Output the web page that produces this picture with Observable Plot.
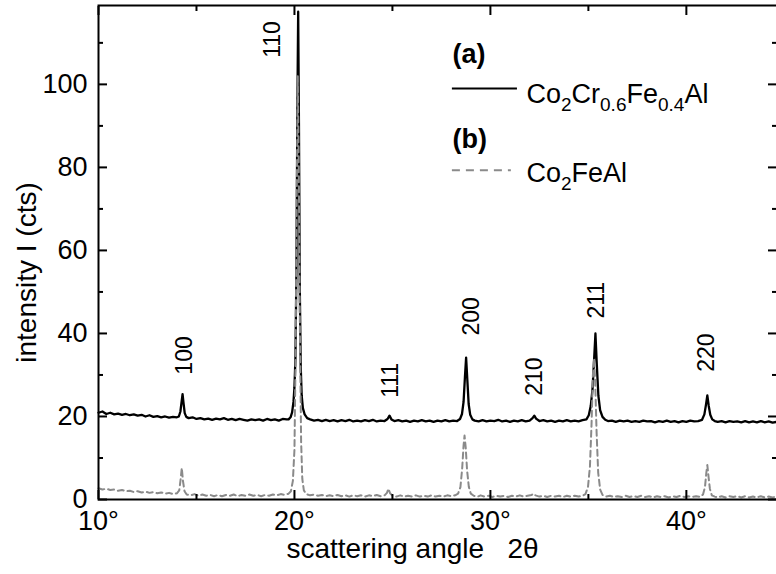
<!DOCTYPE html>
<html><head><meta charset="utf-8">
<script src="https://cdn.jsdelivr.net/npm/d3@7"></script>
<script src="https://cdn.jsdelivr.net/npm/@observablehq/plot@0.6"></script>
<style>html,body{margin:0;padding:0;background:#fff;overflow:hidden}</style>
</head><body><div id="chart"></div>
<script>
// (a) Co2Cr0.6Fe0.4Al : [2θ (deg), intensity (cts)]
const seriesA = [
[10.0,20.9],[10.2,21.2],[10.4,20.6],[10.6,20.9],[10.8,20.5],[11.0,20.7],[11.2,20.4],[11.4,20.6],[11.6,20.3],[11.8,20.5],
[12.0,20.2],[12.2,20.4],[12.4,20.0],[12.6,20.3],[12.8,19.9],[13.0,20.1],[13.2,19.8],[13.4,20.0],[13.6,19.7],[13.8,19.9],
[14.0,19.8],[14.1,20.0],[14.18,21.2],[14.24,23.5],[14.29,25.4],[14.34,23.2],[14.40,20.8],[14.48,19.9],[14.6,19.6],[14.8,19.8],
[15.0,19.4],[15.2,19.6],[15.4,19.3],[15.6,19.5],[15.8,19.2],[16.0,19.5],[16.2,19.3],[16.4,19.6],[16.6,19.2],[16.8,19.4],
[17.0,19.1],[17.2,19.4],[17.4,19.2],[17.6,19.0],[17.8,19.3],[18.0,19.1],[18.2,19.3],[18.4,19.0],[18.6,19.4],[18.8,19.1],
[19.0,19.3],[19.2,19.0],[19.4,19.4],[19.6,19.3],[19.70,19.3],[19.80,19.8],[19.88,21.0],[19.95,23.5],[20.00,27],[20.05,34],
[20.10,55],[20.15,95],[20.19,117.5],[20.23,90],[20.27,52],[20.32,32],[20.37,25],[20.43,22],[20.52,20.5],[20.65,19.6],
[20.8,19.3],[21.0,19.0],[21.2,19.2],[21.4,18.9],[21.6,19.2],[21.8,18.9],[22.0,19.1],[22.2,18.8],[22.4,19.1],[22.6,18.9],
[22.8,19.2],[23.0,18.8],[23.2,19.0],[23.4,18.8],[23.6,19.1],[23.8,18.9],[24.0,19.2],[24.2,18.8],[24.4,19.0],[24.6,18.9],
[24.75,19.4],[24.85,20.2],[24.95,19.3],[25.1,18.9],[25.3,19.1],[25.5,18.8],[25.7,19.0],[25.9,18.7],[26.1,19.0],[26.3,18.8],
[26.5,19.1],[26.7,18.8],[26.9,19.0],[27.1,18.7],[27.3,19.0],[27.5,18.8],[27.7,19.1],[27.9,18.8],[28.1,19.0],[28.3,18.9],
[28.45,19.4],[28.55,20.6],[28.63,23.5],[28.70,29.5],[28.76,34.2],[28.82,29.0],[28.89,23.0],[28.97,20.4],[29.08,19.3],[29.2,19.0],
[29.4,18.8],[29.6,19.1],[29.8,18.8],[30.0,19.0],[30.2,18.9],[30.4,19.2],[30.6,18.8],[30.8,19.0],[31.0,18.7],[31.2,19.0],
[31.4,18.8],[31.6,19.1],[31.8,18.8],[32.0,19.0],[32.15,19.6],[32.24,20.2],[32.33,19.5],[32.5,18.9],[32.7,19.1],[32.9,18.8],
[33.1,19.0],[33.3,18.7],[33.5,19.0],[33.7,18.8],[33.9,19.1],[34.1,18.8],[34.3,19.0],[34.5,18.8],[34.7,19.1],[34.9,19.3],
[35.02,20.3],[35.12,22.5],[35.21,26.5],[35.29,33.5],[35.36,40.0],[35.43,32.5],[35.51,25.0],[35.60,21.5],[35.72,19.9],[35.86,19.2],
[36.0,18.9],[36.2,19.0],[36.4,18.7],[36.6,19.0],[36.8,18.8],[37.0,19.0],[37.2,18.7],[37.4,18.9],[37.6,18.7],[37.8,19.0],
[38.0,18.8],[38.2,18.9],[38.4,18.6],[38.6,18.9],[38.8,18.7],[39.0,19.0],[39.2,18.7],[39.4,18.9],[39.6,18.6],[39.8,18.9],
[40.0,18.7],[40.2,19.0],[40.4,18.8],[40.6,18.9],[40.8,19.2],[40.92,20.5],[41.00,22.8],[41.07,25.1],[41.14,22.6],[41.22,20.4],
[41.32,19.3],[41.45,18.9],[41.6,18.7],[41.8,18.9],[42.0,18.6],[42.2,18.9],[42.4,18.7],[42.6,18.8],[42.8,18.6],[43.0,18.9],
[43.2,18.6],[43.4,18.8],[43.6,18.6],[43.8,18.9],[44.0,18.6],[44.2,18.8],[44.4,18.5],[44.6,18.7]
];
// (b) Co2FeAl : [2θ (deg), intensity (cts)]
const seriesB = [
[10.0,2.7],[10.2,2.4],[10.4,2.6],[10.6,2.3],[10.8,2.4],[11.0,2.1],[11.2,2.3],[11.4,2.0],[11.6,2.1],[11.8,1.8],
[12.0,2.0],[12.2,1.7],[12.4,1.9],[12.6,1.6],[12.8,1.8],[13.0,1.5],[13.2,1.7],[13.4,1.4],[13.6,1.6],[13.8,1.3],
[14.0,1.5],[14.12,2.2],[14.19,4.8],[14.25,7.6],[14.31,4.5],[14.39,2.0],[14.5,1.2],[14.7,1.0],[14.9,1.3],[15.1,0.9],
[15.3,1.2],[15.5,0.9],[15.7,1.1],[15.9,0.8],[16.1,1.1],[16.3,0.8],[16.5,1.1],[16.7,0.9],[16.9,1.2],[17.1,0.8],
[17.3,1.1],[17.5,0.9],[17.7,1.2],[17.9,0.9],[18.1,1.1],[18.3,0.8],[18.5,1.1],[18.7,0.9],[18.9,1.2],[19.1,1.0],
[19.3,1.3],[19.5,1.1],[19.7,1.4],[19.82,2.0],[19.92,4.5],[20.00,12],[20.06,35],[20.12,75],[20.17,102],[20.22,80],
[20.28,40],[20.34,14],[20.40,5],[20.48,2.2],[20.6,1.3],[20.8,1.0],[21.0,1.2],[21.2,0.9],[21.4,1.1],[21.6,0.8],
[21.8,1.0],[22.0,0.8],[22.2,1.1],[22.4,0.8],[22.6,1.0],[22.8,0.7],[23.0,1.0],[23.2,0.8],[23.4,1.0],[23.6,0.7],
[23.8,1.0],[24.0,0.8],[24.2,1.1],[24.4,0.8],[24.6,1.0],[24.72,1.6],[24.80,2.6],[24.88,1.5],[25.0,0.9],[25.2,0.7],
[25.4,1.0],[25.6,0.7],[25.8,0.9],[26.0,0.7],[26.2,1.0],[26.4,0.7],[26.6,0.9],[26.8,0.7],[27.0,1.0],[27.2,0.7],
[27.4,0.9],[27.6,0.7],[27.8,1.0],[28.0,0.8],[28.2,1.0],[28.35,1.4],[28.47,3.0],[28.56,7.5],[28.63,13.0],[28.68,15.4],
[28.74,12.5],[28.81,7.0],[28.90,3.0],[29.0,1.4],[29.15,0.9],[29.35,0.7],[29.5,1.0],[29.7,0.7],[29.9,0.9],[30.1,0.6],
[30.3,0.9],[30.5,0.7],[30.7,0.9],[30.9,0.6],[31.1,0.9],[31.3,0.7],[31.5,1.0],[31.7,0.7],[31.9,0.9],[32.1,1.1],
[32.2,1.4],[32.3,1.0],[32.5,0.7],[32.7,0.9],[32.9,0.6],[33.1,0.9],[33.3,0.7],[33.5,0.9],[33.7,0.6],[33.9,0.9],
[34.1,0.7],[34.3,0.9],[34.5,0.7],[34.7,0.9],[34.85,1.3],[34.98,3.0],[35.08,8],[35.16,18],[35.23,30],[35.29,34],
[35.35,28],[35.42,16],[35.50,6.5],[35.60,2.4],[35.72,1.1],[35.9,0.7],[36.1,0.9],[36.3,0.6],[36.5,0.8],[36.7,0.6],
[36.9,0.9],[37.1,0.6],[37.3,0.8],[37.5,0.6],[37.7,0.9],[37.9,0.6],[38.1,0.8],[38.3,0.5],[38.5,0.8],[38.7,0.6],
[38.9,0.8],[39.1,0.5],[39.3,0.8],[39.5,0.6],[39.7,0.9],[39.9,0.6],[40.1,0.8],[40.3,0.6],[40.5,0.8],[40.7,0.6],
[40.85,1.2],[40.95,3.0],[41.02,6.5],[41.07,8.3],[41.12,6.0],[41.20,2.6],[41.3,1.0],[41.45,0.7],[41.6,0.5],[41.8,0.8],
[42.0,0.5],[42.2,0.8],[42.4,0.6],[42.6,0.8],[42.8,0.5],[43.0,0.8],[43.2,0.5],[43.4,0.7],[43.6,0.5],[43.8,0.8],
[44.0,0.5],[44.2,0.7],[44.4,0.5],[44.6,0.7]
];

const xMajor = [10, 20, 30, 40];
const xMinor = [15, 25, 35];
const yMajor = [0, 20, 40, 60, 80, 100];
const yMinor = [10, 30, 50, 70, 90, 110];

// Miller-index peak labels: text, 2θ and intensity of label centre
const peakLabels = ["100", "110", "111", "200", "210", "211", "220"];
const peakLabelAngle = [14.39, 18.88, 24.90, 29.03, 32.24, 35.41, 41.02];
const peakLabelLevel = [34.7, 110.8, 28.7, 44.1, 29.6, 48.0, 35.4];

// legend
const legendTags = ["(a)", "(b)"];
const legendNames = ["Co2Cr0.6Fe0.4Al", "Co2FeAl"];
const legendParts = {
  "Co2Cr0.6Fe0.4Al": [["Co",0],["2",1],["Cr",0],["0.6",1],["Fe",0],["0.4",1],["Al",0]],
  "Co2FeAl": [["Co",0],["2",1],["FeAl",0]]
};
const legendTagLevel = [107.3, 86.8];
const legendNameLevel = [97.7, 78.5];
const legendLineLevel = [99.0, 79.3];
const legendX1 = 28.06, legendX2 = [31.38, 31.07], legendTextX = 31.84;

const xLabel = "scattering angle\u00a0\u00a0\u00a02θ";
const yLabel = "intensity I (cts)";

const peaks = peakLabels.map((t, i) => ({t, x: peakLabelAngle[i], y: peakLabelLevel[i]}));
const legend = legendTags.map((tag, i) => ({tag, name: legendNames[i], ty: legendTagLevel[i], ny: legendNameLevel[i], ly: legendLineLevel[i], x2: legendX2[i]}));

const font = "Liberation Sans, Arial, Helvetica, sans-serif";

const chart = Plot.plot({
  width: 776, height: 574,
  marginLeft: 98, marginRight: 0, marginTop: 5, marginBottom: 75,
  style: {fontFamily: font, background: "white", color: "black"},
  x: {domain: [10, 44.6]},
  y: {domain: [0, 119]},
  marks: [
    Plot.line(seriesA, {x: d => d[0], y: d => d[1], stroke: "black", strokeWidth: 2.3}),
    Plot.line(seriesB, {x: d => d[0], y: d => d[1], stroke: "#8a8a8a", strokeWidth: 2, strokeDasharray: "6,4"}),
    Plot.frame({stroke: "black", strokeWidth: 2, insetRight: -3}),
    Plot.axisX({ticks: xMajor, anchor: "bottom", tickSize: -9, tickPadding: 20, strokeWidth: 2, fontSize: 27, tickFormat: d => d + "°", label: null}),
    Plot.axisX({ticks: xMinor, anchor: "bottom", tickSize: -5, strokeWidth: 2, tickFormat: () => "", label: null}),
    Plot.axisX({ticks: xMajor, anchor: "top", tickSize: -9, strokeWidth: 2, tickFormat: () => "", label: null}),
    Plot.axisX({ticks: xMinor, anchor: "top", tickSize: -5, strokeWidth: 2, tickFormat: () => "", label: null}),
    Plot.axisY({ticks: yMajor, anchor: "left", tickSize: -9, tickPadding: 20, strokeWidth: 2, fontSize: 27, label: null}),
    Plot.axisY({ticks: yMinor, anchor: "left", tickSize: -5, strokeWidth: 2, tickFormat: () => "", label: null}),
    Plot.axisY({ticks: yMajor, anchor: "right", tickSize: -9, strokeWidth: 2, tickFormat: () => "", label: null}),
    Plot.axisY({ticks: yMinor, anchor: "right", tickSize: -5, strokeWidth: 2, tickFormat: () => "", label: null}),
    Plot.text(peaks, {x: "x", y: "y", text: "t", rotate: -90, fontSize: 23, fill: "black"}),
    Plot.text(legend, {x: legendX1, y: "ty", text: "tag", textAnchor: "start", fontSize: 27, fontWeight: "bold", fill: "black"}),
    Plot.ruleY(legend.slice(0, 1), {y: "ly", x1: legendX1, x2: "x2", stroke: "black", strokeWidth: 2}),
    Plot.ruleY(legend.slice(1), {y: "ly", x1: legendX1, x2: "x2", stroke: "#8a8a8a", strokeWidth: 2, strokeDasharray: "8,6"}),
    Plot.text(legend, {x: legendTextX, y: "ny", text: "name", textAnchor: "start", fontSize: 27, fill: "black"}),
    Plot.text([xLabel], {frameAnchor: "bottom", textAnchor: "middle", lineAnchor: "middle", dx: -25, dy: 50, fontSize: 28, fill: "black"}),
    Plot.text([yLabel], {frameAnchor: "left", textAnchor: "middle", lineAnchor: "middle", dx: -71, dy: 20, rotate: -90, fontSize: 28, fill: "black"})
  ]
});

// chemical subscripts
d3.select(chart).selectAll("text").each(function () {
  const parts = legendParts[this.textContent];
  if (!parts) return;
  const sel = d3.select(this);
  sel.text(null);
  let shift = 0;
  for (const [s, sub] of parts) {
    const target = sub ? 8 : 0;
    const ts = sel.append("tspan").attr("dy", target - shift).text(s);
    if (sub) ts.attr("font-size", 19);
    shift = target;
  }
});

document.getElementById("chart").appendChild(chart);
</script>
</body></html>
